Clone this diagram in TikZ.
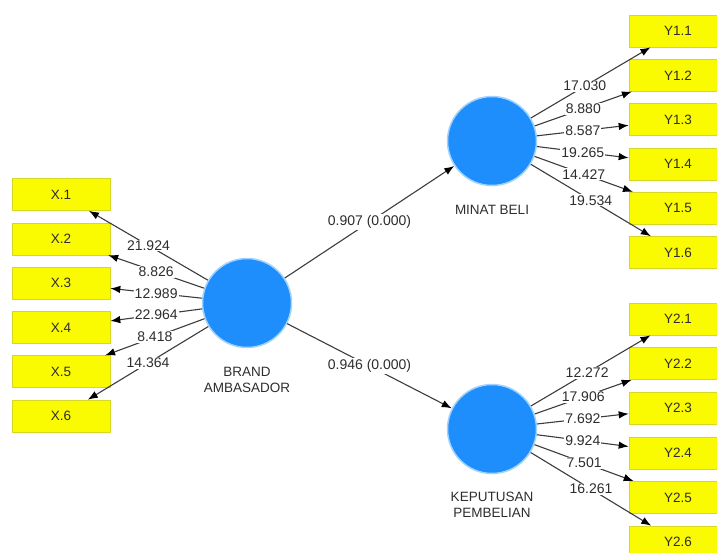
\documentclass[tikz,border=0pt]{standalone}
\usepackage{fontspec}
\setmainfont{Liberation Sans}
\usetikzlibrary{arrows.meta}
\definecolor{circblue}{RGB}{30,142,252}
\definecolor{halo}{RGB}{160,210,255}
\definecolor{boxyellow}{RGB}{250,250,0}
\definecolor{boxedge}{RGB}{215,215,40}
\definecolor{linegray}{RGB}{60,60,60}
\definecolor{txtgray}{RGB}{45,45,45}
\begin{document}
\begin{tikzpicture}[x=1pt,y=-1pt,
  latent/.style={circle, fill=circblue, draw=halo, line width=1.5pt, minimum size=89pt, inner sep=0pt},
  indic/.style={rectangle, fill=boxyellow, draw=boxedge, line width=0.6pt, minimum width=98pt, minimum height=32pt, inner sep=0pt, font=\fontsize{13.5}{15}\selectfont, text=txtgray},
  conn/.style={draw=linegray, line width=1.1pt, -{Latex[length=10pt,width=7.5pt,color=black]}},
  val/.style={fill=white, inner sep=1pt, font=\fontsize{14}{15}\selectfont, text=txtgray},
  captxt/.style={align=center, font=\fontsize{13.5}{16}\selectfont, text=txtgray}]
\useasboundingbox (0,0) rectangle (717,552);
\clip (0,0) rectangle (717,552);

% latent variables
\node[latent] (brand) at (247,303) {};
\node[latent] (minat) at (492,141) {};
\node[latent] (kep) at (492,429) {};
\node[captxt] (brandcap) at (247,380) {BRAND\\AMBASADOR};
\node[captxt] (minatcap) at (492,210) {MINAT BELI};
\node[captxt] (kepcap) at (492,505) {KEPUTUSAN\\PEMBELIAN};

% indicators
\foreach \i [evaluate=\i as \yy using 194.5+44.3*(\i-1)] in {1,...,6}
  \node[indic] (x\i) at (61,\yy) {X.\i};
\foreach \i [evaluate=\i as \yy using 31+44.3*(\i-1)] in {1,...,6}
  \node[indic] (ya\i) at (678,\yy) {Y1.\i};
\foreach \i [evaluate=\i as \yy using 319+44.6*(\i-1)] in {1,...,6}
  \node[indic] (yb\i) at (678,\yy) {Y2.\i};

% outer loadings
\foreach \i/\v in {1/21.924,2/8.826,3/12.989,4/22.964,5/8.418,6/14.364}
  \draw[conn] (brand) -- node[val] {\v} (x\i);
\foreach \i/\v/\p in {1/17.030/0.45,2/8.880/0.5,3/8.587/0.5,4/19.265/0.5,5/14.427/0.5,6/19.534/0.5}
  \draw[conn] (minat) -- node[val, pos=\p] {\v} (ya\i);
\foreach \i/\v/\p in {1/12.272/0.47,2/17.906/0.5,3/7.692/0.5,4/9.924/0.5,5/7.501/0.5,6/16.261/0.5}
  \draw[conn] (kep) -- node[val, pos=\p] {\v} (yb\i);

% path coefficients
\draw[conn] (brand) -- node[val] {0.907 (0.000)} (minat);
\draw[conn] (brand) -- node[val] {0.946 (0.000)} (kep);
\end{tikzpicture}
\end{document}
